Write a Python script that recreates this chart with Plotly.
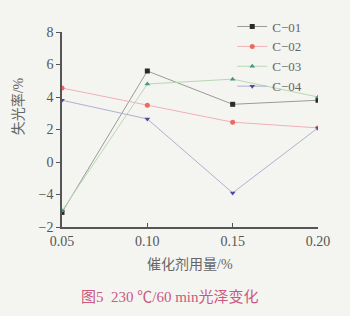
import plotly.graph_objects as go

doses = [0.05, 0.10, 0.15, 0.20]
x_ticks = ["0.05", "0.10", "0.15", "0.20"]
y_tickvals = [-4, -2, 0, 2, 4, 6, 8]
y_ticktext = ["\u22122", "\u22124", "0", "2", "4", "6", "8"]

series_names = ["C\u221201", "C\u221202", "C\u221203", "C\u221204"]
c01 = [-3.1, 5.6, 3.55, 3.8]
c02 = [4.55, 3.5, 2.45, 2.1]
c03 = [-3.0, 4.8, 5.1, 4.0]
c04 = [3.8, 2.65, -1.9, 2.1]

marker_colors = ["#2a2a2a", "#ee6a5a", "#3f9a82", "#4a4aa0"]
line_colors = ["#9a9a9a", "#f0b0b8", "#b8d8b0", "#b0b0cc"]
symbols = ["square", "circle", "triangle-up", "triangle-down"]

serif = "Liberation Serif, Noto Sans CJK SC, serif"

fig = go.Figure()
for name, vals, mc, lc, sym in zip(series_names, [c01, c02, c03, c04], marker_colors, line_colors, symbols):
    fig.add_trace(go.Scatter(
        x=doses, y=vals, name=name, mode="lines+markers",
        line=dict(color=lc, width=1),
        marker=dict(color=mc, symbol=sym, size=5),
    ))

fig.update_layout(
    width=350, height=316,
    margin=dict(l=62, r=32, t=29, b=89),
    paper_bgcolor="#f4f4f1", plot_bgcolor="#f4f4f1",
    font=dict(family=serif, size=14, color="#555555"),
    showlegend=True,
    legend=dict(x=0.665, y=1.105, xanchor="left", yanchor="top",
                bgcolor="rgba(0,0,0,0)", font=dict(size=13, color="#666666"),
                itemwidth=30, tracegroupgap=0),
    xaxis=dict(range=[0.05, 0.20], tickvals=doses, ticktext=x_ticks,
               showgrid=False, zeroline=False, showline=True, linecolor="#555555", linewidth=1.5,
               ticks="inside", ticklen=4, tickcolor="#555555"),
    yaxis=dict(range=[-4, 8], tickvals=y_tickvals, ticktext=y_ticktext,
               showgrid=False, zeroline=False, showline=True, linecolor="#555555", linewidth=1.5,
               ticks="outside", ticklen=4, tickcolor="#555555"),
)

fig.add_annotation(text="失光率/%", xref="paper", yref="paper", x=-0.21, y=0.62,
                   textangle=-90, showarrow=False, font=dict(size=14, color="#666666"))
fig.add_annotation(text="催化剂用量/%", xref="paper", yref="paper", x=0.5, y=-0.24,
                   showarrow=False, font=dict(size=14, color="#666666"))
fig.add_annotation(text="图5  230 ℃/60 min光泽变化", xref="paper", yref="paper", x=0.42, y=-0.41,
                   showarrow=False, font=dict(size=15, color="#c85a82"))

fig.write_html("out.html")
